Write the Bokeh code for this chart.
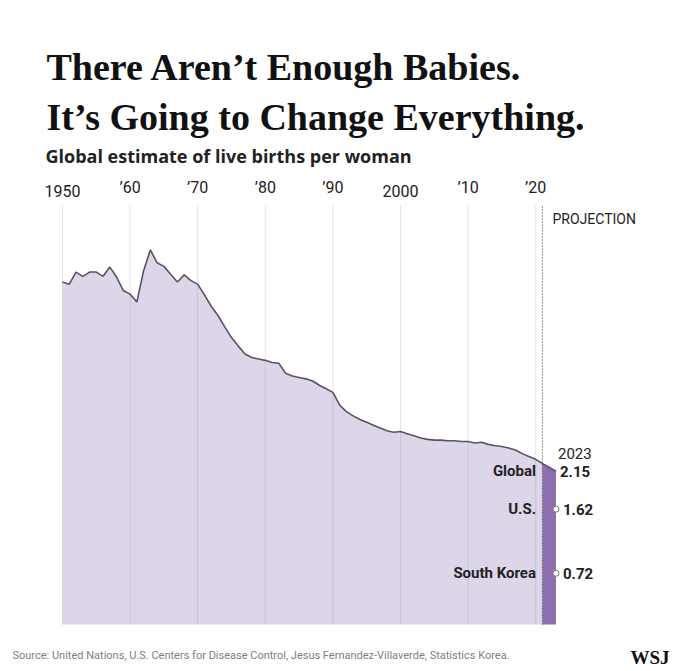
from bokeh.plotting import figure
from bokeh.models import Label, ColumnDataSource
from bokeh.core.properties import value
from bokeh.embed import file_html
from bokeh.resources import INLINE

# ---- data ----
years = list(range(1950, 2024))
births = [
    4.81, 4.78, 4.95, 4.89, 4.95, 4.95, 4.89, 5.02, 4.88, 4.69,   # 1950s
    4.64, 4.53, 4.97, 5.26, 5.08, 5.03, 4.92, 4.81, 4.91, 4.83,   # 1960s
    4.78, 4.63, 4.47, 4.34, 4.18, 4.03, 3.91, 3.80, 3.75, 3.73,   # 1970s
    3.71, 3.68, 3.67, 3.53, 3.49, 3.47, 3.45, 3.42, 3.36, 3.31,   # 1980s
    3.26, 3.08, 2.99, 2.93, 2.88, 2.84, 2.80, 2.76, 2.72, 2.70,   # 1990s
    2.71, 2.68, 2.65, 2.62, 2.60, 2.59, 2.59, 2.58, 2.58, 2.57,   # 2000s
    2.57, 2.55, 2.56, 2.53, 2.51, 2.50, 2.48, 2.45, 2.40, 2.36,   # 2010s
    2.32, 2.26, 2.21, 2.15,                                       # 2020-2023
]
projection_start = 2021
latest_year = 2023
country_names = ["Global", "U.S.", "South Korea"]
country_values = [2.15, 1.62, 0.72]
tick_years = [1950, 1960, 1970, 1980, 1990, 2000, 2010, 2020]
tick_labels = ["1950", "\u201960", "\u201970", "\u201980", "\u201990", "2000", "\u201910", "\u201920"]

# ---- styles / layout ----
LIGHT = "#dcd6e8"
DARK = "#8d6fae"
LINE = "#5b5068"
SANS = "Roboto"

W, H = 680, 671
X0_PX = 62          # canvas x of 1950
Y0_PX = 624         # canvas y of value 0
GRID_TOP_PX = 205   # top of the chart area
PX_PER_YEAR = 6.76
PX_PER_UNIT = 71.2
grid_top = (Y0_PX - GRID_TOP_PX) / PX_PER_UNIT

p = figure(width=W, height=H, output_backend="svg", toolbar_location=None,
           x_range=(1950 - X0_PX / PX_PER_YEAR, 1950 + (W - X0_PX) / PX_PER_YEAR),
           y_range=(-(H - Y0_PX) / PX_PER_UNIT, Y0_PX / PX_PER_UNIT),
           x_axis_location=None, y_axis_location=None,
           min_border=0, background_fill_color="white", border_fill_color="white")
p.outline_line_color = None
p.grid.visible = False

# areas
k = years.index(projection_start)
p.varea(x=years[:k + 1], y1=0, y2=births[:k + 1], fill_color=LIGHT)
p.varea(x=years[k:], y1=0, y2=births[k:], fill_color=DARK)

# vertical grid lines (over the area) and tick labels
p.segment(x0=tick_years, y0=[0] * len(tick_years), x1=tick_years, y1=[grid_top] * len(tick_years),
          line_color="#8a8a8a", line_alpha=0.22, line_width=1)
p.text(x=tick_years, y=[grid_top] * len(tick_years), text=tick_labels, y_offset=-9,
       text_align="center", text_baseline="bottom", text_font=value(SANS),
       text_font_size="16px", text_color="#222222")

p.line(years, births, line_color=LINE, line_width=1.6)

# projection marker
p.segment(x0=[projection_start], y0=[0], x1=[projection_start], y1=[grid_top],
          line_color="#444444", line_dash="1 2", line_width=1.2)
p.text(x=[projection_start], y=[grid_top], text=["PROJECTION"], x_offset=10, y_offset=13,
       text_align="left", text_baseline="middle", text_font=value(SANS),
       text_font_size="14px", text_color="#222222")

# country markers & labels
src = ColumnDataSource(dict(
    x=[latest_year] * 3, y=country_values, name=country_names,
    val=[f"{v:.2f}" for v in country_values],
    voff=[4, 7, 7],
))
p.scatter(x=[latest_year] * 2, y=country_values[1:], size=6, fill_color="white",
          line_color="#777777", line_width=1)
p.text(x="x", y="y", text="name", source=src, x_offset=-20, text_align="right",
       text_baseline="middle", text_font=value(SANS), text_font_style="bold",
       text_font_size="15px", text_color="#222222")
p.text(x="x", y="y", text="val", source=src, x_offset="voff", text_align="left",
       text_baseline="middle", text_font=value(SANS), text_font_style="bold",
       text_font_size="15px", text_color="#222222")
p.text(x=[latest_year], y=[country_values[0]], text=[str(latest_year)], x_offset=2,
       y_offset=-18, text_align="left", text_baseline="middle", text_font=value(SANS),
       text_font_size="15px", text_color="#222222")

# headline & notes (screen units: frame fills the canvas, y measured from bottom)
def lab(text, sx, sy, **kw):
    p.add_layout(Label(x=sx, y=H - sy, x_units="screen", y_units="screen",
                       text=text, text_baseline="alphabetic", **kw))

lab("There Aren\u2019t Enough Babies.", 46, 66, text_font="Liberation Serif",
    text_font_style="bold", text_font_size="38px", text_color="#111111")
lab("It\u2019s Going to Change Everything.", 46, 116, text_font="Liberation Serif",
    text_font_style="bold", text_font_size="38px", text_color="#111111")
lab("Global estimate of live births per woman", 45, 155, text_font="Open Sans",
    text_font_style="bold", text_font_size="18px", text_color="#222222")
lab("Source: United Nations, U.S. Centers for Disease Control, Jesus Fernandez-Villaverde, Statistics Korea.",
    12, 655, text_font="Roboto", text_font_size="11px", text_color="#808080")
lab("WSJ", 630, 657, text_font="Liberation Serif", text_font_style="bold",
    text_font_size="19px", text_color="#111111")

open("out.html", "w").write(file_html(p, INLINE))
